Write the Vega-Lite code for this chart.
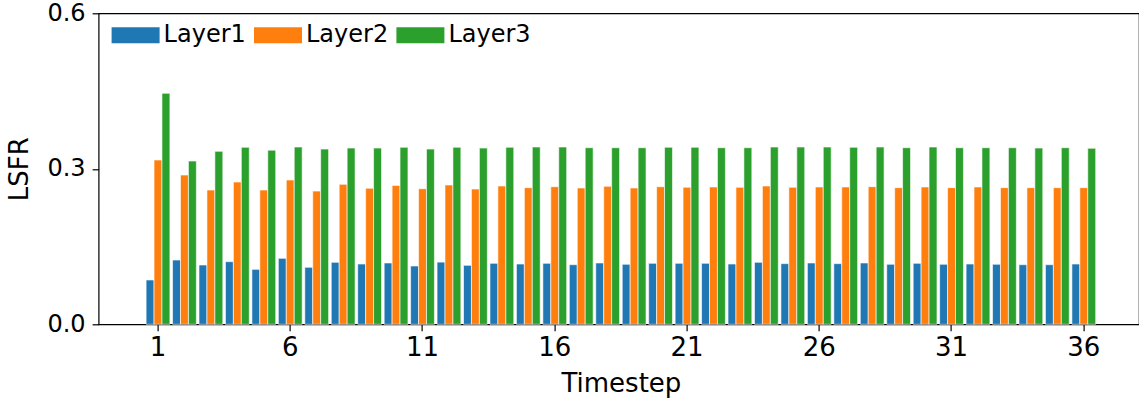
{
  "$schema": "https://vega.github.io/schema/vega-lite/v6.json",
  "autosize": {"type": "none"},
  "padding": {"left": 98.6, "top": 13.3, "right": 0, "bottom": 77.7},
  "width": 1040.4,
  "height": 311,
  "background": "white",
  "config": {
    "font": "DejaVu Sans",
    "view": {"stroke": "black", "strokeWidth": 1.2},
    "axis": {
      "domain": false,
      "grid": false,
      "tickColor": "black",
      "tickWidth": 1.2,
      "tickSize": 6.5,
      "labelFont": "DejaVu Sans",
      "labelFontSize": 26,
      "labelColor": "black",
      "titleFont": "DejaVu Sans",
      "titleFontSize": 26,
      "titleFontWeight": "normal",
      "titleColor": "black"
    },
    "legend": {
      "labelFont": "DejaVu Sans",
      "labelFontSize": 24,
      "labelColor": "black"
    }
  },
  "data": {
    "values": [
      {"t": 1, "layer": "Layer1", "v": 0.0855}, {"t": 1, "layer": "Layer2", "v": 0.317}, {"t": 1, "layer": "Layer3", "v": 0.4457},
      {"t": 2, "layer": "Layer1", "v": 0.124}, {"t": 2, "layer": "Layer2", "v": 0.288}, {"t": 2, "layer": "Layer3", "v": 0.315},
      {"t": 3, "layer": "Layer1", "v": 0.1144}, {"t": 3, "layer": "Layer2", "v": 0.259}, {"t": 3, "layer": "Layer3", "v": 0.3337},
      {"t": 4, "layer": "Layer1", "v": 0.1208}, {"t": 4, "layer": "Layer2", "v": 0.2745}, {"t": 4, "layer": "Layer3", "v": 0.3415},
      {"t": 5, "layer": "Layer1", "v": 0.106}, {"t": 5, "layer": "Layer2", "v": 0.259}, {"t": 5, "layer": "Layer3", "v": 0.336},
      {"t": 6, "layer": "Layer1", "v": 0.1273}, {"t": 6, "layer": "Layer2", "v": 0.2784}, {"t": 6, "layer": "Layer3", "v": 0.342},
      {"t": 7, "layer": "Layer1", "v": 0.110}, {"t": 7, "layer": "Layer2", "v": 0.257}, {"t": 7, "layer": "Layer3", "v": 0.338},
      {"t": 8, "layer": "Layer1", "v": 0.1196}, {"t": 8, "layer": "Layer2", "v": 0.270}, {"t": 8, "layer": "Layer3", "v": 0.340},
      {"t": 9, "layer": "Layer1", "v": 0.1163}, {"t": 9, "layer": "Layer2", "v": 0.2624}, {"t": 9, "layer": "Layer3", "v": 0.340},
      {"t": 10, "layer": "Layer1", "v": 0.1183}, {"t": 10, "layer": "Layer2", "v": 0.268}, {"t": 10, "layer": "Layer3", "v": 0.3415},
      {"t": 11, "layer": "Layer1", "v": 0.1125}, {"t": 11, "layer": "Layer2", "v": 0.2616}, {"t": 11, "layer": "Layer3", "v": 0.338},
      {"t": 12, "layer": "Layer1", "v": 0.120}, {"t": 12, "layer": "Layer2", "v": 0.2688}, {"t": 12, "layer": "Layer3", "v": 0.3415},
      {"t": 13, "layer": "Layer1", "v": 0.1138}, {"t": 13, "layer": "Layer2", "v": 0.261}, {"t": 13, "layer": "Layer3", "v": 0.340},
      {"t": 14, "layer": "Layer1", "v": 0.1177}, {"t": 14, "layer": "Layer2", "v": 0.2668}, {"t": 14, "layer": "Layer3", "v": 0.3415},
      {"t": 15, "layer": "Layer1", "v": 0.1163}, {"t": 15, "layer": "Layer2", "v": 0.2636}, {"t": 15, "layer": "Layer3", "v": 0.342},
      {"t": 16, "layer": "Layer1", "v": 0.1177}, {"t": 16, "layer": "Layer2", "v": 0.2655}, {"t": 16, "layer": "Layer3", "v": 0.342},
      {"t": 17, "layer": "Layer1", "v": 0.115}, {"t": 17, "layer": "Layer2", "v": 0.263}, {"t": 17, "layer": "Layer3", "v": 0.3407},
      {"t": 18, "layer": "Layer1", "v": 0.1183}, {"t": 18, "layer": "Layer2", "v": 0.2662}, {"t": 18, "layer": "Layer3", "v": 0.3407},
      {"t": 19, "layer": "Layer1", "v": 0.1158}, {"t": 19, "layer": "Layer2", "v": 0.263}, {"t": 19, "layer": "Layer3", "v": 0.3407},
      {"t": 20, "layer": "Layer1", "v": 0.1177}, {"t": 20, "layer": "Layer2", "v": 0.2655}, {"t": 20, "layer": "Layer3", "v": 0.3415},
      {"t": 21, "layer": "Layer1", "v": 0.1177}, {"t": 21, "layer": "Layer2", "v": 0.2643}, {"t": 21, "layer": "Layer3", "v": 0.3415},
      {"t": 22, "layer": "Layer1", "v": 0.1177}, {"t": 22, "layer": "Layer2", "v": 0.265}, {"t": 22, "layer": "Layer3", "v": 0.3407},
      {"t": 23, "layer": "Layer1", "v": 0.1163}, {"t": 23, "layer": "Layer2", "v": 0.2643}, {"t": 23, "layer": "Layer3", "v": 0.3407},
      {"t": 24, "layer": "Layer1", "v": 0.1196}, {"t": 24, "layer": "Layer2", "v": 0.2668}, {"t": 24, "layer": "Layer3", "v": 0.342},
      {"t": 25, "layer": "Layer1", "v": 0.117}, {"t": 25, "layer": "Layer2", "v": 0.2643}, {"t": 25, "layer": "Layer3", "v": 0.342},
      {"t": 26, "layer": "Layer1", "v": 0.1183}, {"t": 26, "layer": "Layer2", "v": 0.265}, {"t": 26, "layer": "Layer3", "v": 0.342},
      {"t": 27, "layer": "Layer1", "v": 0.117}, {"t": 27, "layer": "Layer2", "v": 0.265}, {"t": 27, "layer": "Layer3", "v": 0.3415},
      {"t": 28, "layer": "Layer1", "v": 0.1183}, {"t": 28, "layer": "Layer2", "v": 0.2655}, {"t": 28, "layer": "Layer3", "v": 0.342},
      {"t": 29, "layer": "Layer1", "v": 0.1158}, {"t": 29, "layer": "Layer2", "v": 0.2636}, {"t": 29, "layer": "Layer3", "v": 0.3407},
      {"t": 30, "layer": "Layer1", "v": 0.1177}, {"t": 30, "layer": "Layer2", "v": 0.265}, {"t": 30, "layer": "Layer3", "v": 0.342},
      {"t": 31, "layer": "Layer1", "v": 0.1158}, {"t": 31, "layer": "Layer2", "v": 0.2636}, {"t": 31, "layer": "Layer3", "v": 0.3407},
      {"t": 32, "layer": "Layer1", "v": 0.1163}, {"t": 32, "layer": "Layer2", "v": 0.265}, {"t": 32, "layer": "Layer3", "v": 0.3407},
      {"t": 33, "layer": "Layer1", "v": 0.1158}, {"t": 33, "layer": "Layer2", "v": 0.2636}, {"t": 33, "layer": "Layer3", "v": 0.3407},
      {"t": 34, "layer": "Layer1", "v": 0.115}, {"t": 34, "layer": "Layer2", "v": 0.2636}, {"t": 34, "layer": "Layer3", "v": 0.340},
      {"t": 35, "layer": "Layer1", "v": 0.115}, {"t": 35, "layer": "Layer2", "v": 0.2636}, {"t": 35, "layer": "Layer3", "v": 0.3407},
      {"t": 36, "layer": "Layer1", "v": 0.1163}, {"t": 36, "layer": "Layer2", "v": 0.2636}, {"t": 36, "layer": "Layer3", "v": 0.3395}
    ]
  },
  "mark": {"type": "bar", "stroke": "white", "strokeWidth": 1, "strokeOpacity": 0.6},
  "encoding": {
    "x": {
      "field": "t",
      "type": "ordinal",
      "scale": {"paddingInner": 0.1, "paddingOuter": 0, "range": [47.5, 997.1]},
      "axis": {
        "values": [1, 6, 11, 16, 21, 26, 31, 36],
        "labelAngle": 0,
        "labelPadding": 4,
        "title": "Timestep",
        "titlePadding": 10
      }
    },
    "xOffset": {"field": "layer", "type": "nominal", "scale": {"paddingInner": 0, "paddingOuter": 0}},
    "y": {
      "field": "v",
      "type": "quantitative",
      "scale": {"domain": [0, 0.6], "nice": false, "zero": true},
      "axis": {
        "values": [0, 0.3, 0.6],
        "format": ".1f",
        "labelFontSize": 24,
        "labelPadding": 7,
        "title": "LSFR",
        "titlePadding": 14
      }
    },
    "color": {
      "field": "layer",
      "type": "nominal",
      "scale": {"domain": ["Layer1", "Layer2", "Layer3"], "range": ["#1f77b4", "#ff7f0e", "#2ca02c"]},
      "legend": {
        "title": null,
        "orient": "none",
        "legendX": 13,
        "legendY": -2,
        "direction": "horizontal",
        "symbolType": "M-1,-0.333L1,-0.333L1,0.333L-1,0.333Z",
        "symbolSize": 2304,
        "symbolStrokeWidth": 0,
        "symbolOpacity": 1,
        "labelOffset": 4,
        "columnPadding": 7.4
      }
    }
  }
}
